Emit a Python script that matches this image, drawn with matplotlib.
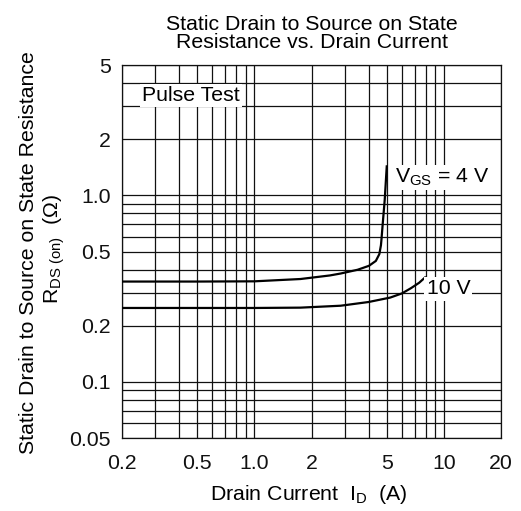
import matplotlib
matplotlib.use("Agg")
import matplotlib.pyplot as plt
from matplotlib.ticker import FixedLocator, NullFormatter

plt.rcParams['font.family'] = ['Liberation Sans', 'DejaVu Sans']
plt.rcParams['mathtext.fontset'] = 'custom'
plt.rcParams['mathtext.rm'] = 'Liberation Sans'
plt.rcParams['mathtext.it'] = 'Liberation Sans'

# Data
id_4v = [0.2, 0.5, 1.0, 1.75, 2.5, 2.85, 3.5, 4.02, 4.37, 4.56, 4.65, 4.68, 4.75, 4.87, 4.99]
r_4v = [0.345, 0.345, 0.346, 0.356, 0.372, 0.381, 0.399, 0.419, 0.445, 0.484, 0.54, 0.58, 0.70, 0.95, 1.43]
id_10v = [0.2, 0.5, 1.0, 1.75, 2.85, 4.0, 5.2, 6.0, 6.7, 7.4, 7.95]
r_10v = [0.249, 0.249, 0.249, 0.25, 0.256, 0.268, 0.283, 0.298, 0.318, 0.34, 0.363]

x_major = [0.2, 0.5, 1.0, 2, 5, 10, 20]
x_labels = ['0.2', '0.5', '1.0', '2', '5', '10', '20']
x_minor = [0.3, 0.4, 0.6, 0.7, 0.8, 0.9, 3, 4, 6, 7, 8, 9]
y_major = [0.05, 0.1, 0.2, 0.5, 1.0, 2, 5]
y_labels = ['0.05', '0.1', '0.2', '0.5', '1.0', '2', '5']
y_minor = [0.06, 0.07, 0.08, 0.09, 0.3, 0.4, 0.6, 0.7, 0.8, 0.9, 3, 4]

FS = 15.3

fig = plt.figure(figsize=(5.21, 5.11), dpi=100)
ax = fig.add_axes([122/521, 1-438/511, (501-122)/521, (438-65)/511])
ax.set_xscale('log')
ax.set_yscale('log')
ax.set_xlim(0.2, 20)
ax.set_ylim(0.05, 5)

ax.xaxis.set_major_locator(FixedLocator(x_major))
ax.xaxis.set_minor_locator(FixedLocator(x_minor))
ax.yaxis.set_major_locator(FixedLocator(y_major))
ax.yaxis.set_minor_locator(FixedLocator(y_minor))
ax.set_xticklabels(x_labels)
ax.set_yticklabels(y_labels)
ax.xaxis.set_minor_formatter(NullFormatter())
ax.yaxis.set_minor_formatter(NullFormatter())
ax.tick_params(which='both', length=0, labelsize=FS, colors='#111111')
ax.tick_params(axis='x', pad=11.5)
ax.tick_params(axis='y', pad=8)
ax.grid(True, which='both', color='#111111', linewidth=0.9)
ax.set_axisbelow(True)
for s in ax.spines.values():
    s.set_color('#111111')
    s.set_linewidth(0.9)

ax.plot(id_4v, r_4v, color='black', linewidth=1.6, zorder=3)
ax.plot(id_10v, r_10v, color='black', linewidth=1.6, zorder=3)

bb = dict(facecolor='white', edgecolor='none', pad=1.5)
ax.text(0.255, 3.43, 'Pulse Test', fontsize=FS, va='center', ha='left', bbox=bb, zorder=4)
ax.text(5.5, 1.17, r'V$_{\mathrm{GS}}$ = 4 V', fontsize=FS, va='baseline', ha='left', bbox=bb, zorder=4)
ax.text(8.1, 0.315, '10 V', fontsize=FS, va='center', ha='left', bbox=bb, zorder=4)

fig.text(311.5/521, 1-29.5/511, 'Static Drain to Source on State',
         ha='center', va='baseline', fontsize=FS)
fig.text(311.5/521, 1-48.5/511, 'Resistance vs. Drain Current',
         ha='center', va='baseline', fontsize=FS)
fig.text(29/521, 1-253/511, 'Static Drain to Source on State Resistance',
         rotation=90, ha='center', va='center', fontsize=FS)
fig.text(54/521, 1-249/511, r'R$_{\mathrm{DS\ (on)}}$  ($\Omega$)',
         rotation=90, ha='center', va='center', fontsize=FS)
fig.text(309/521, 1-500/511, r'Drain Current  I$_{\mathrm{D}}$  (A)',
         ha='center', va='baseline', fontsize=FS)

fig.savefig('out.png', dpi=100)
